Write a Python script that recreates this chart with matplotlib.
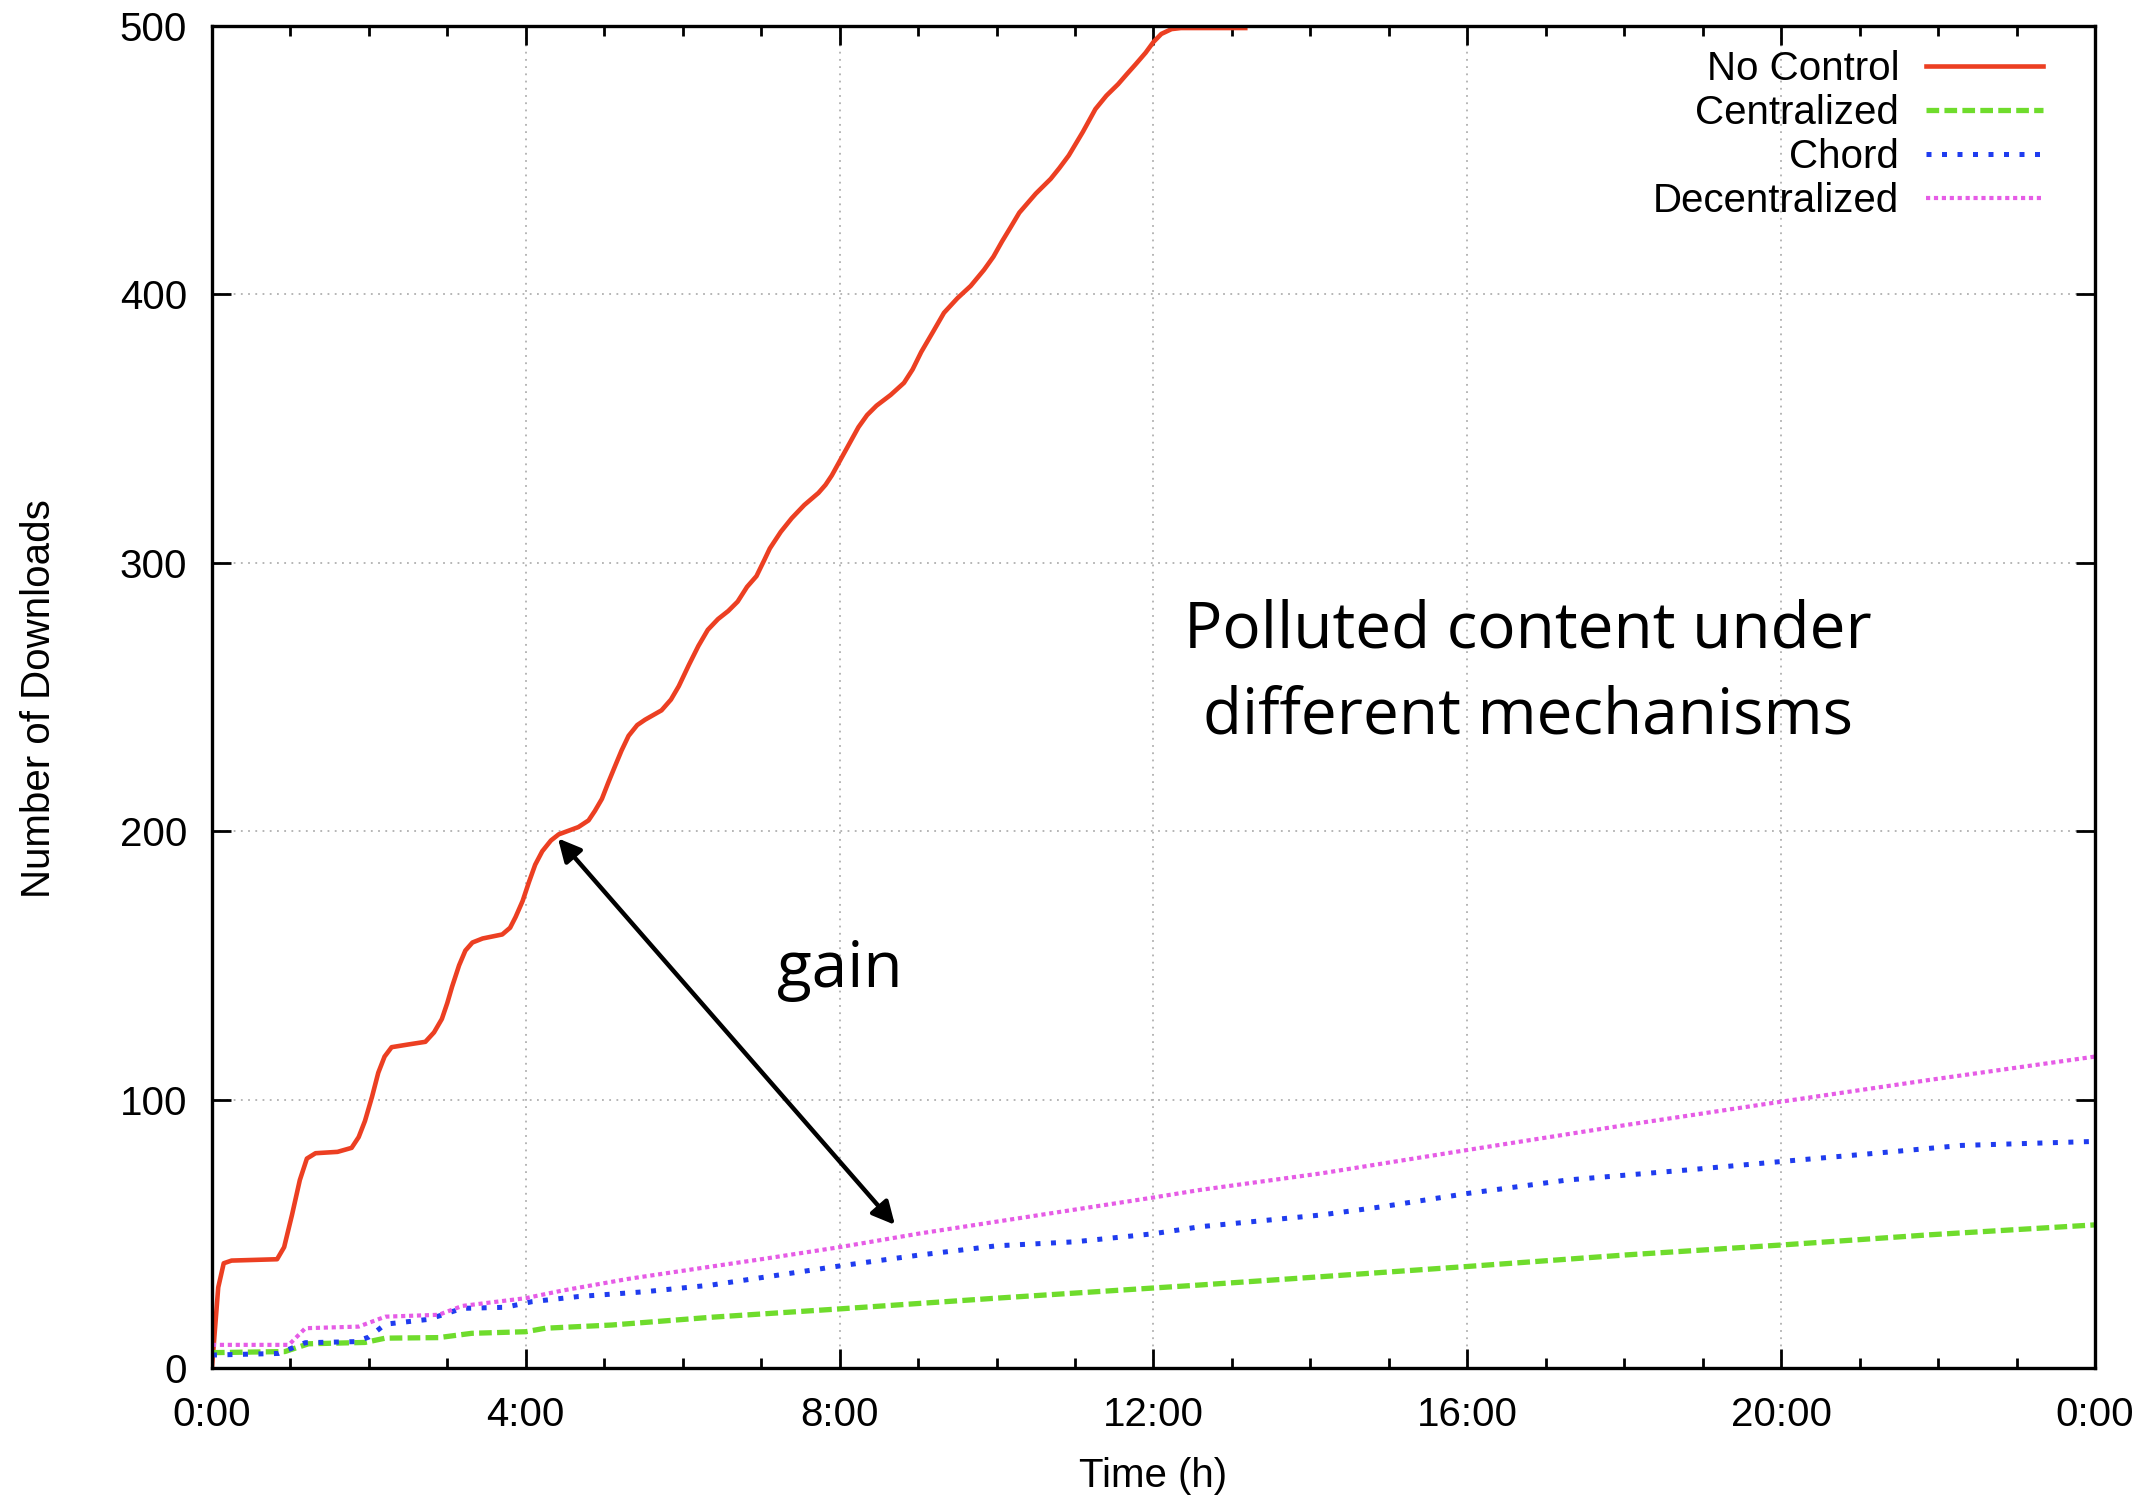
import matplotlib
matplotlib.use("Agg")
import matplotlib.pyplot as plt
from matplotlib.ticker import MultipleLocator, FixedLocator

# hours since start, number of downloads
t_nocontrol = [0, 0.08, 0.15, 0.25, 0.83, 0.92, 1.02, 1.12, 1.21, 1.32, 1.6, 1.78,
               1.87, 1.95, 2.04, 2.12, 2.2, 2.29, 2.5, 2.72, 2.83, 2.93, 3.0,
               3.06, 3.15, 3.23, 3.32, 3.45, 3.7, 3.8, 3.87, 3.96, 4.04, 4.12,
               4.21, 4.32, 4.42, 4.55, 4.67, 4.8, 4.88, 4.97, 5.05, 5.14, 5.22,
               5.31, 5.42, 5.52, 5.73, 5.85, 5.95, 6.08, 6.2, 6.32, 6.45, 6.58,
               6.7, 6.82, 6.94, 7.04, 7.11, 7.25, 7.39, 7.55, 7.73, 7.82, 7.9,
               8.07, 8.24, 8.35, 8.47, 8.65, 8.82, 8.93, 9.04, 9.19, 9.33, 9.5,
               9.67, 9.84, 9.96, 10.07, 10.18, 10.29, 10.5, 10.69, 10.8, 10.92,
               11.1, 11.26, 11.4, 11.55, 11.66, 11.77, 11.9, 12.0, 12.1, 12.23,
               12.35, 13.17]
nocontrol = [0, 30, 39, 40, 40.5, 45, 57, 70, 78, 80, 80.5, 82,
             86, 92, 101, 110, 116, 119.5, 120.5, 121.5, 125, 130, 136,
             142, 150, 155.5, 158.5, 160, 161.5, 164, 168, 174, 181, 187.5,
             192.5, 196.5, 198.8, 200.2, 201.5, 204, 207.5, 212, 218, 224.4, 230,
             235.5, 239.5, 241.5, 245, 249, 254, 262, 269, 275, 279, 282,
             285.5, 291, 295, 301, 305.3, 311.5, 316.6, 321.5, 326, 329, 332.5,
             341.5, 350.5, 355, 358.5, 362.5, 367, 372, 378.5, 386, 393.1, 398.5,
             403.1, 409.1, 414, 419.7, 425, 430.4, 437.5, 443, 447, 451.7,
             460.5, 469, 474, 478.3, 482, 485.6, 490, 494, 497, 498.8,
             499.2, 499.2]

t_central = [0, 0.93, 1.23, 1.95, 2.21, 2.89, 3.31, 4.0, 4.25, 5.1, 6.37, 8.0,
             10.0, 12.59, 14.14, 16.0, 18.02, 20.0, 21.89, 24.0]
central = [5.7, 6.1, 9.0, 9.5, 11.1, 11.3, 12.9, 13.5, 14.8, 16.0, 18.9, 22.0,
           26.0, 30.9, 34.0, 37.8, 42.1, 45.8, 49.6, 53.3]

t_chord = [0, 0.85, 1.19, 1.83, 2.0, 2.21, 2.76, 3.19, 3.74, 4.08, 4.67, 5.52,
           6.37, 8.0, 9.0, 10.0, 11.0, 12.0, 12.59, 14.14, 14.9, 16.0, 17.27,
           18.82, 20.0, 21.13, 22.3, 24.0]
chord = [4.8, 5.4, 9.4, 9.8, 11.5, 16.3, 18.1, 22.2, 22.6, 24.7, 26.6, 28.4,
         30.9, 38.0, 42.0, 45.5, 47.0, 50.0, 52.6, 57.0, 60.0, 65.0, 70.0,
         73.8, 76.9, 79.8, 82.9, 84.4]

t_decentral = [0, 0.98, 1.19, 1.87, 2.21, 2.89, 3.19, 4.0, 4.46, 5.31, 6.37, 7.0,
               8.0, 9.0, 10.0, 11.0, 12.0, 12.59, 14.14, 16.0, 18.02, 20.0,
               21.89, 24.0]
decentral = [8.6, 8.6, 14.8, 15.4, 19.1, 19.8, 23.1, 26.0, 28.8, 33.2, 37.8, 40.5,
             45.0, 50.0, 54.5, 59.0, 63.5, 66.3, 72.5, 81.2, 90.5, 99.2,
             107.3, 116.0]

xtick_pos = [0, 4, 8, 12, 16, 20, 24]
xtick_labels = ["0:00", "4:00", "8:00", "12:00", "16:00", "20:00", "0:00"]

plt.rcParams["font.family"] = ["Liberation Sans", "DejaVu Sans"]

fig = plt.figure(figsize=(21.54, 14.96), dpi=100)
ax = fig.add_axes([0.0984, 0.0856, 0.8742, 0.8971])

ax.plot(t_nocontrol, nocontrol, color="#ec3f22", lw=3.3, label="No Control",
        solid_joinstyle="round")
ax.plot(t_central, central, color="#6fdc2c", lw=3.8, linestyle=(0, (2.4, 1.0)),
        label="Centralized")
ax.plot(t_chord, chord, color="#1f3cef", lw=3.6, linestyle=(0, (1.0, 2.1)),
        label="Chord")
ax.plot(t_decentral, decentral, color="#e65ce6", lw=3.0, linestyle=(0, (1.0, 0.9)),
        label="Decentralized")

ax.set_xlim(0, 24)
ax.set_ylim(0, 500)
ax.xaxis.set_major_locator(FixedLocator(xtick_pos))
ax.set_xticklabels(xtick_labels)
ax.xaxis.set_minor_locator(MultipleLocator(1))
ax.yaxis.set_major_locator(MultipleLocator(100))

ax.tick_params(which="both", direction="in", top=True, right=True,
               labelsize=29, width=2.0)
ax.tick_params(which="major", length=14)
ax.tick_params(which="minor", length=7)
ax.tick_params(axis="x", pad=20)
ax.tick_params(axis="y", pad=18)
for s in ax.spines.values():
    s.set_linewidth(2.4)

ax.grid(True, which="major", color="#b0b0b0", linestyle=(0, (1, 3)), lw=1.3)
ax.set_axisbelow(True)

ax.set_xlabel("Time (h)", fontsize=29)
ax.set_ylabel("Number of Downloads", fontsize=29)
ax.xaxis.set_label_coords(0.5, -0.066)
ax.yaxis.set_label_coords(-0.082, 0.499)

leg = ax.legend(loc="upper right", bbox_to_anchor=(0.9724, 0.982), frameon=False,
                fontsize=29, markerfirst=False, handlelength=2.9,
                handletextpad=0.67, labelspacing=0.15, borderpad=0,
                borderaxespad=0)

ax.annotate("", xy=(4.41, 197.3), xytext=(8.705, 53.3),
            arrowprops=dict(arrowstyle="<|-|>", color="black", lw=3.2,
                            mutation_scale=34, shrinkA=0, shrinkB=0))
ax.text(8.0, 142, "gain", fontsize=46, family=["Open Sans", "DejaVu Sans"],
        ha="center", va="baseline")
ax.text(16.77, 236.4, "Polluted content under\ndifferent mechanisms", fontsize=46,
        family=["Open Sans", "DejaVu Sans"], ha="center", va="baseline",
        multialignment="center", linespacing=1.44)

fig.savefig("out.png", dpi=100)
